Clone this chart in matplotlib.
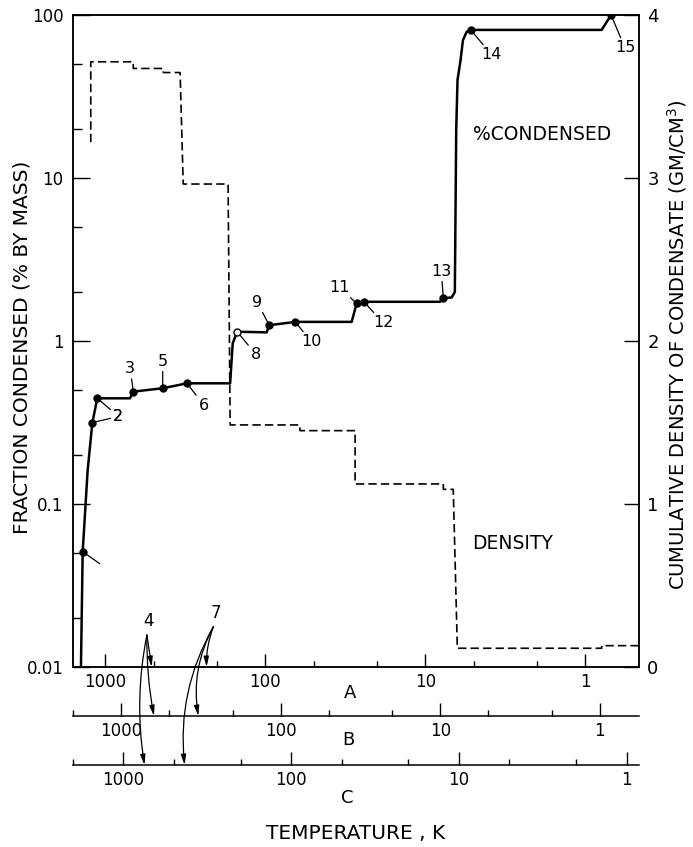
import matplotlib
matplotlib.use('Agg')
import matplotlib.pyplot as plt

plt.rcParams['font.family'] = ['DejaVu Sans']

# ---------------- data (temperature on scale A, K) ----------------
cond_T = [1420, 1385, 1290, 1205, 1122, 701, 669, 438, 309, 166, 160, 150,
          98.1, 94.6, 65.0, 28.9, 26.9, 24.2, 8.1, 7.73, 6.85, 6.55, 6.42, 6.30,
          6.03, 5.83, 5.52, 5.21, 0.792, 0.692]
cond_pct = [0.01, 0.051, 0.16, 0.316, 0.445, 0.445, 0.489, 0.513, 0.550, 0.550,
            0.968, 1.14, 1.13, 1.25, 1.31, 1.31, 1.70, 1.74, 1.74, 1.83, 1.85,
            2.0, 20, 40, 53, 70, 79, 81, 81, 100]

pts_T = [1385, 1205, 1122, 669, 438, 309, 150, 94.6, 65.0, 26.9, 24.2, 7.73, 5.21, 0.692]
pts_pct = [0.051, 0.316, 0.445, 0.489, 0.513, 0.550, 1.14, 1.25, 1.31, 1.70, 1.74, 1.83, 81, 100]
pts_label = ['', '2', '2', '3', '5', '6', '8', '9', '10', '11', '12', '13', '14', '15']
# label offsets (pixels) from each point
pts_off = [(17, -12), (26, 6), (21, -18), (-3, 23), (0, 27), (17, -22), (19, -23),
           (-12, 23), (16, -20), (-17, 16), (19, -21), (-2, 27), (21, -25), (14, -33)]

dens_T = [1233, 1233, 669, 669, 434, 434, 341, 326, 171, 166, 60.8, 60.8, 27.5,
          27.5, 7.73, 7.73, 6.70, 6.32, 0.792, 0.792, 0.462]
dens_val = [3.22, 3.713, 3.713, 3.672, 3.672, 3.647, 3.647, 2.963, 2.963, 1.485,
            1.485, 1.450, 1.450, 1.123, 1.123, 1.090, 1.090, 0.115, 0.115, 0.131, 0.131]

# condensation temperatures of species 4 and 7 on scales A, B, C
arrow4_T = {'A': 513, 'B': 622, 'C': 749}
arrow7_T = {'A': 233, 'B': 328, 'C': 432}

scale_ticks = [1000, 100, 10, 1]
scale_ticklabels = ['1000', '100', '10', '1']
scale_minor = [2000, 500, 200, 50, 20, 5, 2]

W, H = 693, 847
def fx(x):
    return x / W
def fy(y):
    return 1 - y / H

fig = plt.figure(figsize=(W / 100, H / 100), dpi=100)
L, R, T_, B_ = 73, 639, 15, 667
ax = fig.add_axes([fx(L), fy(B_), (R - L) / W, (B_ - T_) / H])

ax.set_xscale('log')
ax.set_yscale('log')
ax.set_xlim(1592, 0.463)
ax.set_ylim(0.01, 100)

ax.plot(cond_T, cond_pct, color='black', lw=1.8, solid_joinstyle='round', zorder=3)
for i, (t, p) in enumerate(zip(pts_T, pts_pct)):
    face = 'white' if pts_label[i] == '8' else 'black'
    ax.plot([t], [p], 'o', ms=5, mfc=face, mec='black', mew=1.0, zorder=4)
    ax.annotate(pts_label[i], xy=(t, p), xytext=pts_off[i], textcoords='offset pixels',
                ha='center', va='center', fontsize=11.5,
                arrowprops=dict(arrowstyle='-', lw=0.9, color='black',
                                shrinkA=0, shrinkB=2))

ax.set_yticks([0.01, 0.1, 1, 10, 100])
ax.set_yticklabels(['0.01', '0.1', '1', '10', '100'])
ax.set_yticks([0.02, 0.05, 0.2, 0.5, 2, 5, 20, 50], minor=True)
ax.set_yticklabels([], minor=True)
ax.set_xticks(scale_ticks)
ax.set_xticklabels(scale_ticklabels)
ax.set_xticks([500, 200, 50, 20, 5, 2], minor=True)
ax.set_xticklabels([], minor=True)
ax.tick_params(axis='y', which='major', direction='in', length=12, width=1, labelsize=12, pad=7)
ax.tick_params(axis='y', which='minor', direction='in', length=6.5, width=1)
ax.tick_params(axis='x', which='major', direction='in', length=9.4, width=1, labelsize=12, pad=4.5)
ax.tick_params(axis='x', which='minor', direction='in', length=4.3, width=1)
for s in ax.spines.values():
    s.set_linewidth(1.1)

ax2 = ax.twinx()
ax2.set_ylim(0, 4)
ax2.plot(dens_T, dens_val, color='black', lw=1.2, dashes=(5, 2.5), zorder=2)
ax2.set_yticks([0, 1, 2, 3, 4])
ax2.set_yticklabels(['0', '1', '2', '3', '4'])
ax2.tick_params(axis='y', direction='in', length=11, width=1, labelsize=13, pad=6)
for s in ax2.spines.values():
    s.set_linewidth(1.1)

# extra temperature scales B and C
def make_scale(ypix, xlim):
    a = fig.add_axes([fx(L), fy(ypix), (R - L) / W, 0.0001])
    a.patch.set_visible(False)
    for k in ['top', 'left', 'right']:
        a.spines[k].set_visible(False)
    a.spines['bottom'].set_linewidth(1.1)
    a.set_xscale('log')
    a.set_xlim(*xlim)
    a.set_yticks([])
    a.set_xticks(scale_ticks)
    a.set_xticklabels(scale_ticklabels)
    a.set_xticks([m for m in scale_minor], minor=True)
    a.set_xticklabels([], minor=True)
    a.tick_params(axis='x', which='major', direction='in', length=9.4, width=1, labelsize=12, pad=4.5)
    a.tick_params(axis='x', which='minor', direction='in', length=4.3, width=1)
    return a

axB = make_scale(716, (1792, 0.569))
axC = make_scale(765, (2000, 0.843))

fig.text(fx(350), fy(693), 'A', fontsize=13, ha='center', va='center')
fig.text(fx(348), fy(740), 'B', fontsize=13, ha='center', va='center')
fig.text(fx(347), fy(798), 'C', fontsize=13, ha='center', va='center')

# arrows for species 4 and 7
def arrows(label, start_T, start_pct, targets, rads):
    ax.annotate(label, xy=(start_T, start_pct), xytext=(2, 14), textcoords='offset pixels',
                ha='center', va='center', fontsize=12)
    for key, a_ in (('A', ax), ('B', axB), ('C', axC)):
        ax.annotate('', xy=(targets[key], 0), xycoords=a_.get_xaxis_transform(),
                    xytext=(start_T, start_pct), textcoords=ax.transData,
                    annotation_clip=False,
                    arrowprops=dict(arrowstyle='-|>,head_length=0.6,head_width=0.15',
                                    lw=0.9, color='black', shrinkA=0, shrinkB=0,
                                    connectionstyle='arc3,rad=%s' % rads[key]))

arrows('4', 550, 0.0157, arrow4_T, {'A': 0.0, 'B': 0.05, 'C': 0.09})
arrows('7', 211, 0.0177, arrow7_T, {'A': 0.1, 'B': 0.17, 'C': 0.16})

fig.text(fx(473), fy(135), '%CONDENSED', fontsize=13.5, ha='left', va='center')
fig.text(fx(472), fy(543), 'DENSITY', fontsize=13.5, ha='left', va='center')
fig.text(fx(22), fy(347), 'FRACTION CONDENSED (% BY MASS)', rotation=90,
         fontsize=14.5, ha='center', va='center')
fig.text(fx(677), fy(345), 'CUMULATIVE DENSITY OF CONDENSATE (GM/CM$^{3}$)', rotation=90,
         fontsize=14, ha='center', va='center')
fig.text(fx(356), fy(833), 'TEMPERATURE , K', fontsize=14.5, ha='center', va='center')

fig.savefig('out.png', dpi=100)
